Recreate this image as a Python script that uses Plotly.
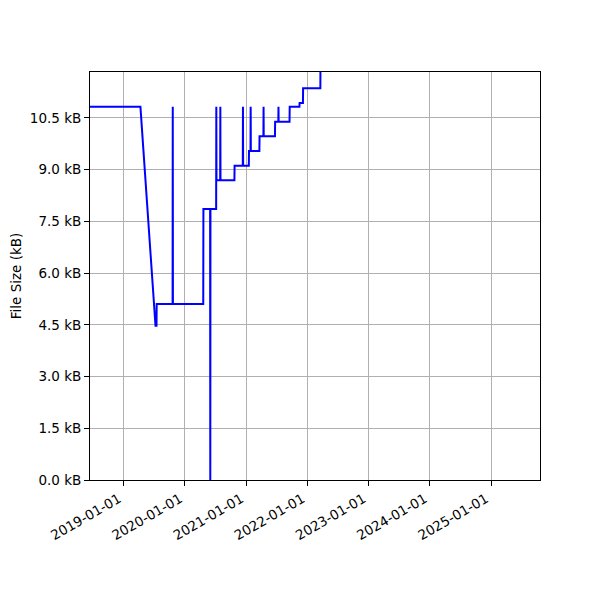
import plotly.graph_objects as go

# Observed file sizes (kB) over time
dates = [
    "2018-06-01", "2019-04-10", "2019-07-09", "2019-07-15", "2019-07-16",
    "2019-10-19", "2019-10-20", "2019-10-21",
    "2020-04-19", "2020-04-20",
    "2020-05-30", "2020-05-31", "2020-06-01",
    "2020-07-05", "2020-07-06", "2020-07-07",
    "2020-07-29", "2020-07-30", "2020-07-31",
    "2020-10-22", "2020-10-23",
    "2020-12-11", "2020-12-12", "2020-12-13",
    "2021-01-16", "2021-01-17",
    "2021-01-26", "2021-01-27", "2021-01-28",
    "2021-03-20", "2021-03-21",
    "2021-04-13", "2021-04-14", "2021-04-15",
    "2021-06-21", "2021-06-22",
    "2021-07-11", "2021-07-12", "2021-07-13",
    "2021-09-16", "2021-09-17",
    "2021-11-14", "2021-11-15",
    "2021-12-05", "2021-12-06",
    "2022-03-19", "2022-03-20", "2022-06-01",
]
sizes_kb = [
    10.82, 10.82, 4.47, 4.47, 5.10,
    5.10, 10.82, 5.10,
    5.10, 7.86,
    7.86, 0.0, 7.86,
    7.86, 10.82, 8.69,
    8.69, 10.82, 8.69,
    8.69, 9.11,
    9.11, 10.82, 9.11,
    9.11, 9.54,
    9.54, 10.82, 9.54,
    9.54, 9.97,
    9.97, 10.82, 9.97,
    9.97, 10.39,
    10.39, 10.82, 10.39,
    10.39, 10.82,
    10.82, 10.93,
    10.93, 11.36,
    11.36, 12.60, 12.60,
]

x_ticks = ["2019-01-01", "2020-01-01", "2021-01-01", "2022-01-01",
           "2023-01-01", "2024-01-01", "2025-01-01"]
y_ticks = [0.0, 1.5, 3.0, 4.5, 6.0, 7.5, 9.0, 10.5]

fig = go.Figure()
fig.add_trace(go.Scatter(
    x=dates, y=sizes_kb, mode="lines",
    line=dict(color="#0000ff", width=2),
    showlegend=False, hoverinfo="skip",
))

font = dict(family="DejaVu Sans", size=13.5, color="black")

fig.update_layout(
    width=600, height=600,
    margin=dict(l=82, r=68, t=64, b=128, pad=0),
    paper_bgcolor="white", plot_bgcolor="white",
    font=font,
    xaxis=dict(
        type="date",
        range=["2018-06-13", "2025-10-20"],
        tickvals=x_ticks, ticktext=x_ticks,
        tickangle=-30,
        ticklabelshift=-5,
        showgrid=True, gridcolor="#b0b0b0", gridwidth=1,
        showline=True, linecolor="black", linewidth=1, mirror=True,
        ticks="outside", ticklen=5, tickcolor="black", tickwidth=1,
        zeroline=False, tickfont=font, automargin=False,
    ),
    yaxis=dict(
        range=[0, 11.83],
        tickvals=y_ticks,
        ticktext=[f"{v:.1f} kB" for v in y_ticks],
        showgrid=True, gridcolor="#b0b0b0", gridwidth=1,
        showline=True, linecolor="black", linewidth=1, mirror=True,
        ticks="outside", ticklen=5, tickcolor="black", tickwidth=1,
        zeroline=False, tickfont=font, automargin=False,
        title=dict(text="File Size (kB)", font=font, standoff=12),
    ),
)

fig.write_html("out.html")
